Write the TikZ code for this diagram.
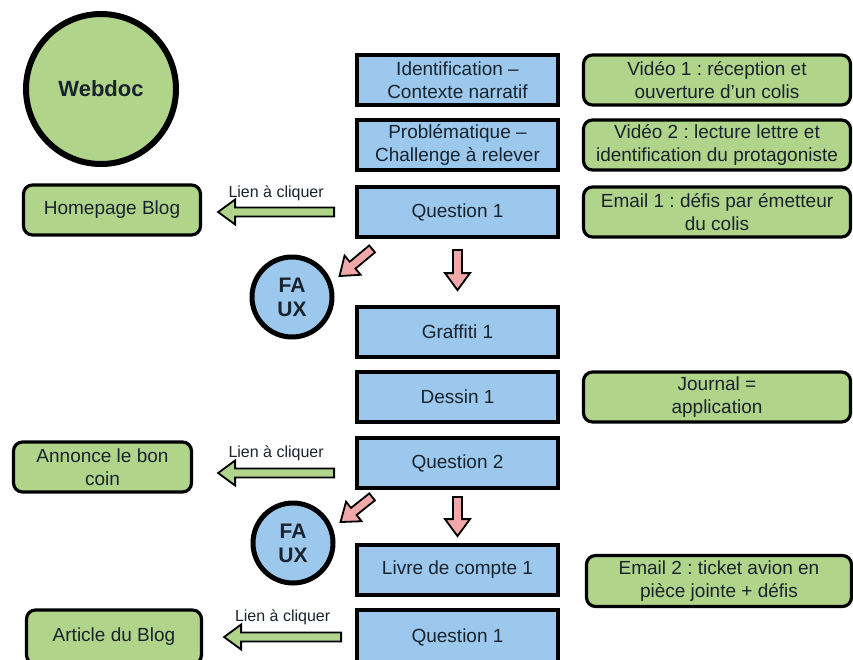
\documentclass[tikz,border=0pt]{standalone}
\usepackage{fontspec}
\setmainfont{Liberation Sans}
\usetikzlibrary{calc}
\frenchspacing

\definecolor{boxblue}{RGB}{155,200,236}
\definecolor{boxgreen}{RGB}{176,212,138}
\definecolor{arrowpink}{RGB}{240,168,168}
\definecolor{textdark}{RGB}{25,35,45}

% block arrow: fill colour, tail, tip
\newcommand{\blockarrow}[3]{%
  \coordinate (ba-head) at ($(#3)!17pt!(#2)$);
  \filldraw[fill=#1, draw=black, line width=1.8pt, line join=miter]
    ($(#2)!4.5pt!90:(#3)$) -- ($(ba-head)!4.5pt!90:(#3)$) -- ($(ba-head)!12.5pt!90:(#3)$) -- (#3)
    -- ($(ba-head)!12.5pt!-90:(#3)$) -- ($(ba-head)!4.5pt!-90:(#3)$) -- ($(#2)!4.5pt!-90:(#3)$) -- cycle;}

\begin{document}
\begin{tikzpicture}[x=1pt,y=-1pt,
    bluebox/.style={draw, line width=3.8pt, fill=boxblue, minimum width=201pt, minimum height=50pt,
      inner sep=0pt, align=center, text=textdark, font=\fontsize{19}{22.5}\selectfont},
    greenbox/.style={draw, line width=3.2pt, fill=boxgreen, rounded corners=9pt, minimum height=50pt,
      inner sep=0pt, align=center, text=textdark, font=\fontsize{19}{22.5}\selectfont},
    fauxcircle/.style={circle, draw, line width=5pt, fill=boxblue, minimum size=80pt, inner sep=0pt,
      align=center, text=textdark, font=\bfseries\fontsize{21}{24}\selectfont},
    lienlabel/.style={text=textdark, font=\fontsize{16}{18}\selectfont}]
    \useasboundingbox (0,0) rectangle (853,659);

    \node[circle, draw, line width=6pt, fill=boxgreen, minimum size=150pt, text=textdark,
      font=\bfseries\fontsize{22}{26}\selectfont] (webdoc) at (101,89) {Webdoc};

    % central column
    \node[bluebox] (ident) at (457.5,80) {Identification –\\Contexte narratif};
    \node[bluebox] (probl) at (457.5,145) {Problématique –\\Challenge à relever};
    \node[bluebox] (quest1) at (457.5,212) {Question 1};
    \node[bluebox] (graff) at (457.5,332) {Graffiti 1};
    \node[bluebox] (dessin) at (457.5,397) {Dessin 1};
    \node[bluebox] (quest2) at (457.5,463) {Question 2};
    \node[bluebox] (livre) at (457.5,570) {Livre de compte 1};
    \node[bluebox, minimum height=54pt] (quest3) at (457.5,637) {Question 1};

    % media on the right
    \node[greenbox, minimum width=267pt] (video1) at (717,80) {Vidéo 1 : réception et\\ouverture d’un colis};
    \node[greenbox, minimum width=267pt] (video2) at (717,145) {Vidéo 2 : lecture lettre et\\identification du protagoniste};
    \node[greenbox, minimum width=267pt] (email1) at (717,212) {Email 1 : défis par émetteur\\du colis};
    \node[greenbox, minimum width=267pt] (journal) at (717,397) {Journal =\\application};
    \node[greenbox, minimum width=265pt, minimum height=51pt] (email2) at (719,581) {Email 2 : ticket avion en\\pièce jointe + défis};

    % links on the left
    \node[greenbox, minimum width=177pt] (blog) at (112,210) {Homepage Blog};
    \node[greenbox, minimum width=178pt] (annonce) at (102.5,467) {Annonce le bon\\coin};
    \node[greenbox, minimum width=175pt, minimum height=54pt] (article) at (114,637) {Article du Blog};

    \node[fauxcircle] (faux1) at (292,297) {FA\\UX};
    \node[fauxcircle] (faux2) at (293,543) {FA\\UX};

    % green arrows
    \coordinate (lien1s) at ([xshift=-21pt]quest1.west);
    \coordinate (lien1e) at ($(blog.east |- lien1s)+(16pt,0)$);
    \blockarrow{boxgreen}{lien1s}{lien1e}
    \node[lienlabel] (lien1) at ($(lien1s)!0.5!(lien1e)+(0,-19)$) {Lien à cliquer};

    \coordinate (lien2s) at ($(quest2.west)+(-21pt,-10pt)$);
    \coordinate (lien2e) at ($(annonce.east |- lien2s)+(25pt,0)$);
    \blockarrow{boxgreen}{lien2s}{lien2e}
    \node[lienlabel] (lien2) at ($(lien2s)!0.5!(lien2e)+(0,-20)$) {Lien à cliquer};

    \coordinate (lien3s) at ([xshift=-14pt]quest3.west);
    \coordinate (lien3e) at ($(article.east |- lien3s)+(21pt,0)$);
    \blockarrow{boxgreen}{lien3s}{lien3e}
    \node[lienlabel] (lien3) at ($(lien3s)!0.5!(lien3e)+(0,-20)$) {Lien à cliquer};

    % pink arrows
    \coordinate (faux1s) at ([shift={(17pt,-10pt)}]quest1.south west);
    \coordinate (faux1e) at ([shift={(9pt,3pt)}]faux1.25);
    \blockarrow{arrowpink}{faux1s}{faux1e}
    \coordinate (down1s) at ([yshift=-11pt]quest1.south);
    \coordinate (down1e) at ([yshift=15pt]graff.north);
    \blockarrow{arrowpink}{down1s}{down1e}

    \coordinate (faux2s) at ([shift={(17pt,-7pt)}]quest2.south west);
    \coordinate (faux2e) at ([shift={(9pt,3pt)}]faux2.25);
    \blockarrow{arrowpink}{faux2s}{faux2e}
    \coordinate (down2s) at ([yshift=-7pt]quest2.south);
    \coordinate (down2e) at ([yshift=7pt]livre.north);
    \blockarrow{arrowpink}{down2s}{down2e}
\end{tikzpicture}
\end{document}
